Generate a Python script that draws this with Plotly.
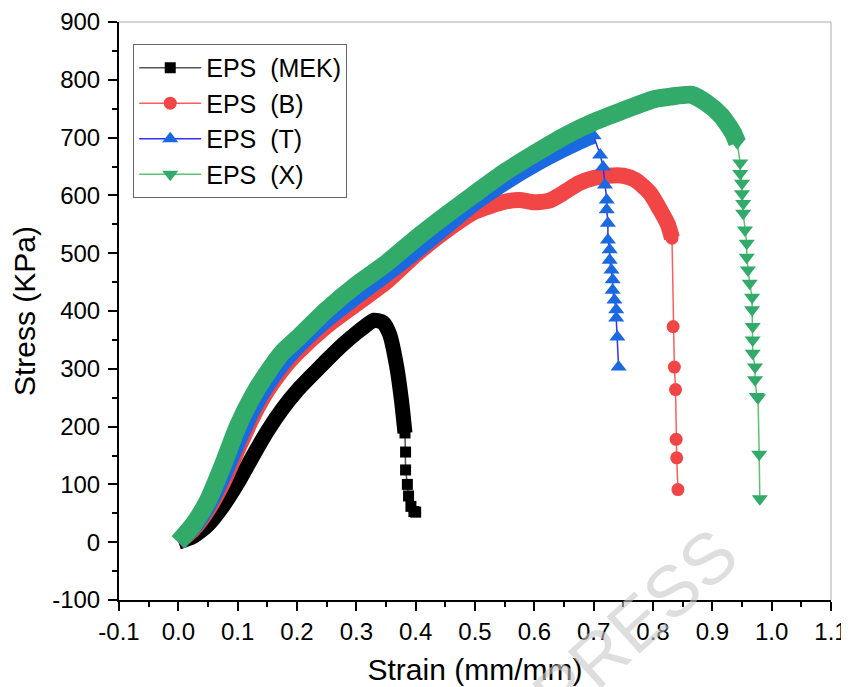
import plotly.graph_objects as go

# ---------------- data ----------------
# EPS (MEK) - black squares
mek_band_strain = [0, 0.025, 0.05, 0.075, 0.1, 0.125, 0.15, 0.175, 0.2, 0.225, 0.25, 0.275, 0.3, 0.315, 0.33, 0.345, 0.356, 0.368, 0.376, 0.382]
mek_band_stress = [0, 10, 30, 62, 102, 148, 192, 230, 262, 289, 315, 340, 362, 374, 384, 380, 360, 304, 246, 189]
mek_tail_strain = [0.382, 0.383, 0.383, 0.386, 0.388, 0.392, 0.397, 0.400]
mek_tail_stress = [189, 156, 125, 100, 80, 62, 53, 52]

# EPS (B) - red circles
b_band_strain = [0, 0.025, 0.05, 0.075, 0.1, 0.125, 0.15, 0.175, 0.2, 0.25, 0.3, 0.35, 0.4, 0.45, 0.5, 0.55, 0.575, 0.6, 0.625, 0.65, 0.675, 0.7, 0.725, 0.75, 0.77, 0.795, 0.812, 0.825, 0.832]
b_band_stress = [0, 22, 56, 102, 160, 216, 262, 298, 327, 374, 412, 450, 497, 538, 572, 589, 592, 588, 591, 605, 621, 630, 634, 634, 627, 604, 575, 550, 526]
b_tail_strain = [0.832, 0.834, 0.836, 0.838, 0.839, 0.840, 0.842]
b_tail_stress = [526, 373, 303, 264, 178, 146, 91]

# EPS (T) - blue triangles
t_band_strain = [0, 0.025, 0.05, 0.075, 0.1, 0.125, 0.15, 0.175, 0.2, 0.25, 0.3, 0.35, 0.4, 0.45, 0.5, 0.55, 0.6, 0.65, 0.685, 0.7]
t_band_stress = [0, 25, 62, 112, 172, 228, 272, 308, 337, 385, 425, 463, 503, 545, 587, 622, 653, 680, 697, 703]
t_tail_strain = [0.7, 0.711, 0.716, 0.719, 0.722, 0.722, 0.724, 0.724, 0.727, 0.727, 0.730, 0.732, 0.732, 0.735, 0.738, 0.738, 0.740, 0.742]
t_tail_stress = [703, 670, 649, 618, 592, 575, 552, 523, 506, 488, 471, 454, 436, 419, 402, 388, 355, 303]

# EPS (X) - green down-triangles
x_band_strain = [0, 0.025, 0.05, 0.075, 0.1, 0.125, 0.15, 0.175, 0.2, 0.25, 0.3, 0.35, 0.4, 0.45, 0.5, 0.55, 0.6, 0.65, 0.7, 0.75, 0.8, 0.83, 0.865, 0.89, 0.915, 0.935, 0.942]
x_band_stress = [0, 30, 72, 133, 200, 252, 293, 328, 352, 402, 445, 482, 525, 565, 603, 640, 672, 702, 727, 747, 766, 771, 774, 760, 738, 708, 691]
x_tail_strain = [0.942, 0.947, 0.947, 0.950, 0.950, 0.952, 0.952, 0.955, 0.958, 0.958, 0.960, 0.963, 0.967, 0.967, 0.968, 0.968, 0.968, 0.972, 0.972, 0.975, 0.977, 0.979, 0.980]
x_tail_stress = [691, 656, 638, 621, 603, 586, 569, 540, 517, 493, 471, 448, 424, 402, 373, 350, 327, 303, 281, 252, 250, 152, 75]

series_names = ["EPS\u00a0 (MEK)", "EPS\u00a0 (B)", "EPS\u00a0 (T)", "EPS\u00a0 (X)"]

x_tick_vals = [-0.1, 0.0, 0.1, 0.2, 0.3, 0.4, 0.5, 0.6, 0.7, 0.8, 0.9, 1.0, 1.1]
x_tick_text = ["-0.1", "0.0", "0.1", "0.2", "0.3", "0.4", "0.5", "0.6", "0.7", "0.8", "0.9", "1.0", "1.1"]
y_tick_vals = [-100, 0, 100, 200, 300, 400, 500, 600, 700, 800, 900]
y_tick_text = ["-100", "0", "100", "200", "300", "400", "500", "600", "700", "800", "900"]

# ---------------- styles ----------------
FONT = "Arial, Liberation Sans, sans-serif"
styles = [
    dict(mc="#000000", lc="#555555", sym="square", size=11, band=15),
    dict(mc="#F24545", lc="#FF5C5C", sym="circle", size=13, band=16),
    dict(mc="#1A69E0", lc="#3030FF", sym="triangle-up", size=14, band=16),
    dict(mc="#31AA6A", lc="#5CC270", sym="triangle-down", size=14, band=18),
]
bands = [
    (mek_band_strain, mek_band_stress, mek_tail_strain, mek_tail_stress),
    (b_band_strain, b_band_stress, b_tail_strain, b_tail_stress),
    (t_band_strain, t_band_stress, t_tail_strain, t_tail_stress),
    (x_band_strain, x_band_stress, x_tail_strain, x_tail_stress),
]

fig = go.Figure()
for name, st, (bx, by, tx, ty) in zip(series_names, styles, bands):
    fig.add_trace(go.Scatter(
        x=bx, y=by, mode="lines", showlegend=False, hoverinfo="skip",
        line=dict(color=st["mc"], width=st["band"], shape="spline", smoothing=0.6),
    ))
    fig.add_trace(go.Scatter(
        x=tx, y=ty, mode="lines+markers", name=name,
        line=dict(color=st["lc"], width=1.5),
        marker=dict(symbol=st["sym"], size=st["size"], color=st["mc"], line=dict(width=0)),
    ))

fig.update_layout(
    width=841, height=679,
    margin=dict(l=111, r=18, t=14, b=86.5),
    paper_bgcolor="white", plot_bgcolor="white",
    font=dict(family=FONT, color="black"),
    showlegend=True,
    legend=dict(
        x=0.02, y=0.962, xanchor="left", yanchor="top",
        bordercolor="#666666", borderwidth=1, bgcolor="white",
        font=dict(size=25, family=FONT), itemwidth=62,
        tracegroupgap=0,
    ),
    xaxis=dict(
        range=[-0.1, 1.1], tickvals=x_tick_vals, ticktext=x_tick_text,
        ticks="outside", ticklen=9, tickwidth=2, tickcolor="black",
        showline=True, linecolor="black", linewidth=2,
        showgrid=False, zeroline=False, automargin=False,
        tickfont=dict(size=24, family=FONT),
        minor=dict(ticks="outside", ticklen=5, tickwidth=2, tickcolor="black", dtick=0.05, tick0=0, showgrid=False),
        title=dict(text="Strain (mm/mm)", font=dict(size=30, family=FONT), standoff=15),
    ),
    yaxis=dict(
        range=[-100, 900], tickvals=y_tick_vals, ticktext=y_tick_text,
        ticks="outside", ticklen=9, tickwidth=2, tickcolor="black",
        showline=True, linecolor="black", linewidth=2,
        showgrid=False, zeroline=False, automargin=False,
        tickfont=dict(size=24, family=FONT), ticklabelstandoff=3,
        minor=dict(ticks="outside", ticklen=5, tickwidth=2, tickcolor="black", dtick=50, tick0=0, showgrid=False),
        title=dict(text="Stress (KPa)", font=dict(size=30, family=FONT), standoff=8),
    ),
    shapes=[
        dict(type="line", xref="paper", yref="paper", x0=0, x1=1, y0=1, y1=1, line=dict(color="#aaaaaa", width=1)),
        dict(type="line", xref="paper", yref="paper", x0=1, x1=1, y0=0, y1=1, line=dict(color="#aaaaaa", width=1)),
    ],
    annotations=[
        dict(text="PRESS", xref="paper", yref="paper", x=0.725, y=-0.042,
             xanchor="center", yanchor="middle", showarrow=False,
             textangle=-42, font=dict(size=72, family=FONT, color="rgba(200,200,200,0.6)")),
    ],
)

fig.write_html("out.html")
